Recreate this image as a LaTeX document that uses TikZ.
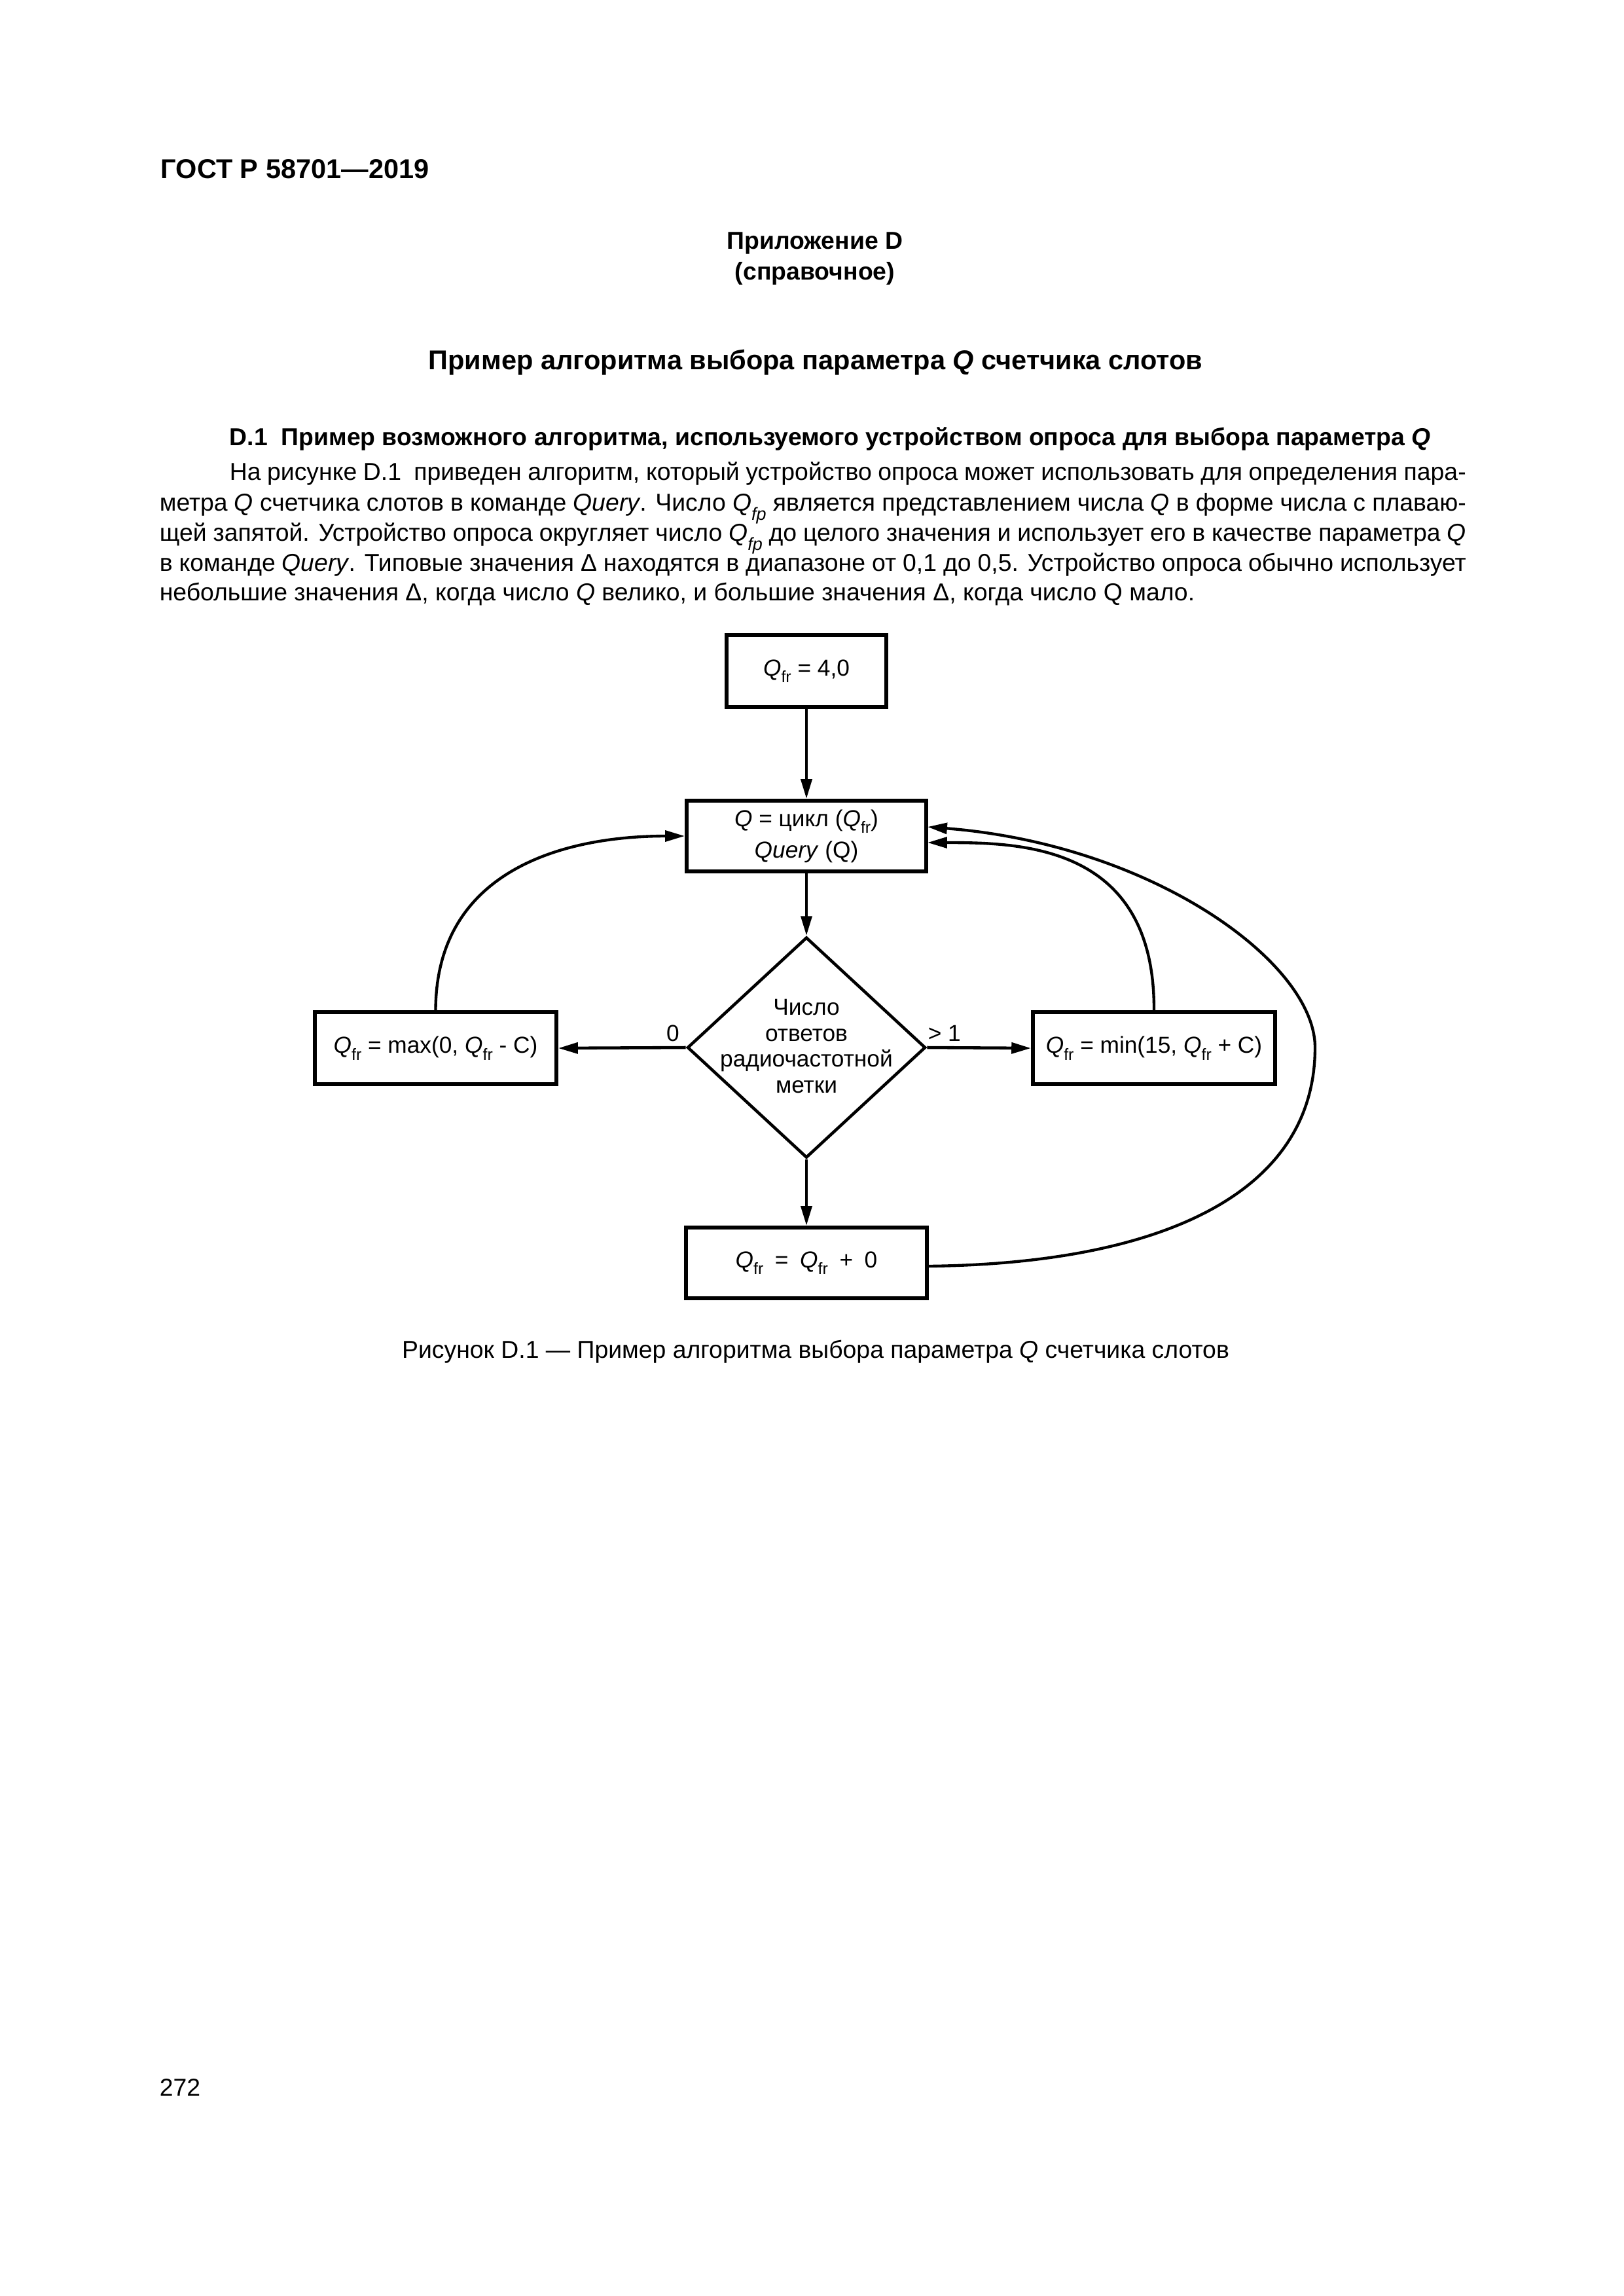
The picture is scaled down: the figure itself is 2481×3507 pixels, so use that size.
\documentclass[tikz,border=0pt]{standalone}
\usepackage{fontspec}
\setmainfont{Liberation Sans}
\usetikzlibrary{arrows.meta,shapes.geometric}
\def\PX{0.0846667mm}
\newcommand\fsub[1]{\raisebox{-0.3em}{\fontsize{6}{6}\selectfont #1}}
\newcommand\Qfr{\textit{Q}\fsub{fr}}
\newcommand\Qfp{\textit{Q}\raisebox{-0.4em}{\fontsize{6.5}{6.5}\selectfont\itshape fp}}
\newcommand\dfont{\fontsize{8.5}{11.6}\selectfont}
\newcommand\bodyfont{\fontsize{9}{11}\selectfont}
\newcommand\gap{\hspace{0.5em}}
\newlength\LwA \setlength\LwA{159.935mm}
\newlength\LwB \setlength\LwB{168.995mm}
\begin{document}
\begin{tikzpicture}[x=\PX, y=-\PX,
  box/.style={draw, line width=1.4pt, inner sep=0pt, font=\dfont, align=center},
  arr/.style={line width=1.1pt, -{Triangle[length=7.2pt,width=4pt]}},
  curv/.style={line width=1.05pt, -{Triangle[length=7.2pt,width=4pt]}},
  txt/.style={inner sep=0pt, font=\bodyfont}]
\fill[white] (0,0) rectangle (2481,3507);
\useasboundingbox (0,0) rectangle (2481,3507);

% page texts
\node[txt, anchor=base west, font=\bfseries\fontsize{10}{12}\selectfont] (hdr) at (245,272) {ГОСТ Р 58701—2019};
\node[txt, anchor=base, font=\bfseries\fontsize{9}{11}\selectfont] (app) at (1245,380) {Приложение D};
\node[txt, anchor=base, font=\bfseries\fontsize{9}{11}\selectfont] (refn) at (1245,427) {(справочное)};
\node[txt, anchor=base, font=\bfseries\fontsize{10}{12}\selectfont] (title) at (1246,564) {Пример алгоритма выбора параметра \textit{Q} счетчика слотов};
\node[txt, anchor=base west, font=\bfseries\fontsize{9}{11}\selectfont] (sec) at (350,680) {D.1~ Пример возможного алгоритма, используемого устройством опроса для выбора параметра \textit{Q}};

\node[txt, anchor=base west] (p1) at (350,733) {\hbox to \LwA{На рисунке D.1~ приведен алгоритм, который устройство опроса может использовать для определения пара-}};
\node[txt, anchor=base west] (p2) at (243,780) {\hbox to \LwB{метра \textit{Q} счетчика слотов в команде \textit{Query}. Число \Qfp{} является представлением числа \textit{Q} в форме числа с плаваю-}};
\node[txt, anchor=base west] (p3) at (243,826) {\hbox to \LwB{щей запятой. Устройство опроса округляет число \Qfp{} до целого значения и использует его в качестве параметра \textit{Q}}};
\node[txt, anchor=base west] (p4) at (243,872) {\hbox to \LwB{в команде \textit{Query}. Типовые значения Δ находятся в диапазоне от 0,1 до 0,5. Устройство опроса обычно использует}};
\node[txt, anchor=base west] (p5) at (243,917) {небольшие значения Δ, когда число \textit{Q} велико, и большие значения Δ, когда число Q мало.};

\node[txt, anchor=base] (cap) at (1246,2074) {Рисунок D.1 — Пример алгоритма выбора параметра \textit{Q} счетчика слотов};
\node[txt, anchor=base west] (pg) at (243,3201) {272};

% diagram
\node[box, minimum width=244*\PX, minimum height=110*\PX] (b1) at (1232,1025) {\Qfr{} = 4,0};
\node[box, minimum width=366*\PX, minimum height=108*\PX] (b2) at (1232,1277) {\textit{Q} = цикл (\Qfr)\\\textit{Query} (Q)};
\node[draw, diamond, line width=1.1pt, inner sep=0pt, minimum width=364*\PX, minimum height=337*\PX] (dia) at (1232,1600) {};
\node[inner sep=0pt, font=\fontsize{8.5}{9.6}\selectfont, align=center] (dtext) at (1232,1598) {Число\\ответов\\радиочастотной\\метки};
\node[box, minimum width=369*\PX, minimum height=110*\PX] (lbox) at (665.5,1601) {\Qfr{} = max(0, \Qfr{} - C)};
\node[box, minimum width=370*\PX, minimum height=110*\PX] (rbox) at (1763,1601) {\Qfr{} = min(15, \Qfr{} + C)};
\node[box, minimum width=368*\PX, minimum height=108*\PX] (b3) at (1232,1929) {\Qfr{}\gap=\gap\Qfr{}\gap+\gap0};

\node[inner sep=0pt, anchor=base, font=\dfont] (l0) at (1028,1590) {0};
\node[inner sep=0pt, anchor=base west, font=\dfont] (l1) at (1417,1590) {> 1};

\coordinate (b2e1) at (1417,1263);
\coordinate (b2e2) at (1417,1287);
\coordinate (b3e) at (1418,1934);
\coordinate (loopR) at (2009,1600);

\draw[arr] (b1.south) -- (b2.north);
\draw[arr] (b2.south) -- (dia.north);
\draw[arr] (dia.west) -- (lbox.east);
\draw[arr] (dia.east) -- (rbox.west);
\draw[arr] (dia.south) -- (b3.north);

\draw[curv] (lbox.north) .. controls (666,1330) and (860,1277) .. (b2.west);
\draw[curv] (rbox.north) .. controls (1764,1290) and (1560,1287) .. (b2e2);
\draw[curv] (b3e) .. controls (1780,1930) and (2009,1820) .. (loopR)
   .. controls (2009,1470) and (1760,1290) .. (b2e1);
\end{tikzpicture}
\end{document}
